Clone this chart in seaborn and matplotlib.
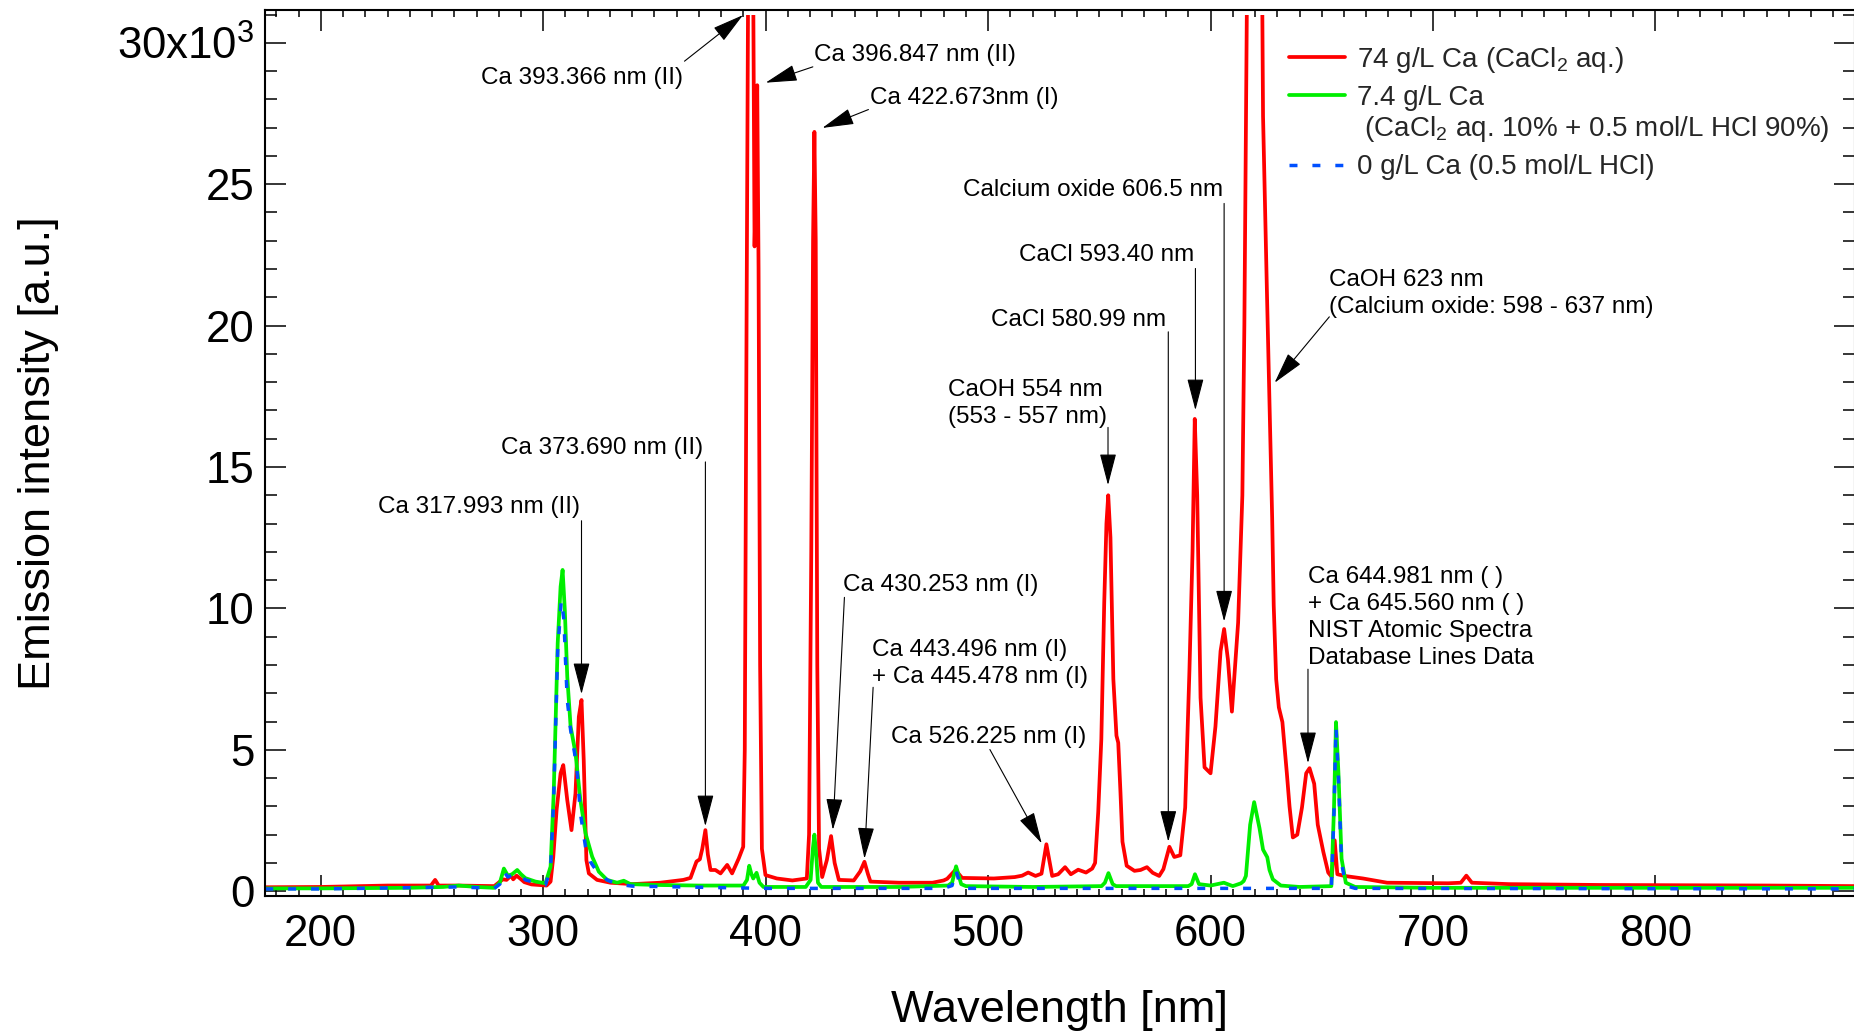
import matplotlib
matplotlib.use("Agg")
import numpy as np
import pandas as pd
import matplotlib.pyplot as plt
from matplotlib.lines import Line2D
from matplotlib.patches import Rectangle
from matplotlib.ticker import MultipleLocator
import seaborn as sns

# ---------------------------------------------------------------------------
# Emission spectra: wavelength [nm] and intensity [x10^3 a.u.]
# ---------------------------------------------------------------------------
wl_74 = [175, 200, 230, 249.5, 251.4, 253, 262, 278, 281.8, 283.5, 285.5, 286.5,
         288, 289.6, 291.5, 294.7, 298, 301.5, 303.3, 304.5, 306.0, 307.8, 309.0,
         310.8, 312.7, 314.5, 316.0, 317.2, 318.2, 319.4, 320.5, 324.2, 330.2, 340,
         352.6, 363, 366.2, 368.9, 370.4, 371.5, 372.9, 374.0, 375.2, 377.4, 379.7,
         382.7, 384.9, 387.9, 389.9, 390.6, 391.4, 392.1, 393.4, 394.4, 395.0, 395.6,
         396.2, 396.8, 397.5, 398.3, 399.9, 405, 412, 418.5, 419.5, 420.5, 421.3,
         421.9, 422.5, 423.2, 424.0, 425.4, 427.5, 429.4, 431.0, 432.9, 439.6, 442.5,
         444.4, 446.0, 447.1, 460, 475, 480, 481.6, 485.3, 488.3, 502.6, 512, 515.3,
         518, 521.3, 524, 526.2, 528.8, 531.5, 534.6, 537.2, 540.5, 544.0, 546.8,
         548.1, 549.5, 550.9, 552.2, 553.2, 554.0, 555.0, 556.3, 557.7, 558.5, 559.5,
         560.4, 562.3, 565.8, 568.5, 571.4, 574, 576.9, 578.8, 581.5, 583.7, 586.4,
         588.6, 590.5, 591.9, 592.9, 594.0, 595.5, 597.3, 600.0, 602.2, 604.5, 606.1,
         607.8, 609.6, 612.4, 614.3, 615.2, 616.4, 619.8, 623.2, 623.6, 625.4, 627.7,
         628.4, 629.5, 630.7, 632.3, 634.3, 635.5, 637.0, 639.0, 641.1, 643.0, 644.5,
         646.6, 648.2, 650.7, 652.9, 654.5, 655.8, 657.0, 660.2, 668.5, 679.4, 706.8,
         712.5, 715.0, 717.5, 734.1, 775.1, 851.7, 889.5]
int_74 = [0.14, 0.15, 0.2, 0.2, 0.4, 0.2, 0.2, 0.18, 0.42, 0.4, 0.55, 0.42,
          0.55, 0.45, 0.32, 0.24, 0.22, 0.2, 0.34, 1.2, 2.87, 4.17, 4.46,
          3.22, 2.16, 3.46, 6.17, 6.76, 4.64, 1.1, 0.63, 0.4, 0.3, 0.25,
          0.3, 0.4, 0.47, 1.05, 1.13, 1.5, 2.16, 1.3, 0.75, 0.75, 0.63,
          0.93, 0.63, 1.16, 1.57, 5.0, 20.0, 32.0, 36.0, 32.0, 22.8, 25.0,
          28.5, 22.0, 8.0, 1.5, 0.57, 0.45, 0.38, 0.45, 2.0, 12.0, 23.0,
          26.85, 23.0, 8.0, 1.5, 0.5, 1.1, 1.95, 1.0, 0.4, 0.38, 0.7,
          1.04, 0.6, 0.34, 0.3, 0.3, 0.38, 0.44, 0.75, 0.47, 0.45, 0.5, 0.55,
          0.66, 0.54, 0.62, 1.66, 0.54, 0.6, 0.85, 0.6, 0.76, 0.66, 0.8,
          1.0, 2.8, 5.38, 10.2, 13.0, 14.0, 12.5, 7.5, 5.5, 5.25, 3.5,
          1.75, 0.9, 0.72, 0.75, 0.85, 0.65, 0.54, 0.78, 1.57, 1.21, 1.27,
          2.96, 7.79, 12.0, 16.7, 14.0, 6.84, 4.38, 4.17, 5.82, 8.49, 9.27,
          8.2, 6.35, 9.5, 14.0, 20.0, 32.0, 38.0, 32.0, 27.4, 21.0, 13.2,
          10.1, 7.5, 6.5, 5.98, 4.17, 3.0, 1.9, 2.0, 2.96, 4.17, 4.35,
          3.8, 2.35, 1.39, 0.66, 0.5, 1.8, 0.6, 0.54, 0.45, 0.3, 0.28,
          0.3, 0.55, 0.3, 0.25, 0.22, 0.2, 0.18]

wl_7_4 = [175, 200, 240, 255, 262, 270, 278, 280.5, 282.3, 284.1, 286, 288.3, 290,
          292.0, 296.5, 301, 303.3, 304.7, 306.5, 307.8, 308.7, 309.7, 310.8,
          312.3, 314.5, 316.7, 319, 322, 325, 328.7, 333.2, 336.2, 339.2, 351,
          370, 390, 391.6, 392.6, 393.6, 394.4, 395.9, 397.2, 399, 418, 420.2,
          421.2, 421.9, 422.6, 423.5, 425, 440, 460, 482, 483.8, 485.6, 487.9,
          490, 520, 551, 552.5, 554.1, 556, 557.5, 590, 591.5, 593.0, 594.8, 600,
          606, 610, 613.7, 614.9, 615.9, 617.8, 619.6, 622.0, 623.6, 625.5, 626.5,
          628, 631.6, 640, 654.3, 655.5, 656.4, 657.5, 658.9, 660.8, 665, 700,
          889.5]
int_7_4 = [0.1, 0.1, 0.12, 0.15, 0.2, 0.15, 0.12, 0.3, 0.8, 0.55, 0.6, 0.75, 0.6,
           0.46, 0.34, 0.28, 0.87, 3.46, 8.77, 10.77, 11.36, 9.94, 7.58,
           5.82, 4.88, 3.22, 2.05, 1.22, 0.69, 0.4, 0.3, 0.37, 0.25, 0.22,
           0.2, 0.2, 0.4, 0.9, 0.6, 0.45, 0.65, 0.3, 0.15, 0.15, 0.4,
           1.5, 2.0, 1.4, 0.3, 0.15, 0.15, 0.15, 0.2, 0.3, 0.88, 0.25,
           0.18, 0.15, 0.18, 0.3, 0.64, 0.25, 0.18, 0.18, 0.25, 0.6, 0.25, 0.2,
           0.3, 0.18, 0.28, 0.36, 0.54, 2.35, 3.15, 2.23, 1.47, 1.2, 0.75,
           0.42, 0.2, 0.15, 0.18, 2.96, 5.98, 4.17, 1.15, 0.3, 0.15, 0.12,
           0.12]

wl_0 = [175, 200, 262, 278, 280.5, 282.3, 284.1, 288.3, 292, 296.5, 301, 303.3,
        304.7, 306.5, 308.1, 309.3, 310.0, 310.8, 312.3, 314.1, 315.3, 316.7,
        319, 321.2, 324.2, 328.7, 333, 340, 400, 480, 483.8, 485.5, 487.5, 490,
        654.3, 655.5, 656.4, 657.5, 658.9, 660.8, 665, 889.5]
int_0 = [0.08, 0.08, 0.15, 0.1, 0.25, 0.7, 0.5, 0.65, 0.4, 0.3, 0.22, 0.8,
         3.3, 8.5, 10.3, 9.6, 8.18, 6.76, 5.7, 4.88, 4.17, 2.76,
         1.57, 1.04, 0.69, 0.4, 0.25, 0.18, 0.1, 0.1, 0.2, 0.75, 0.2, 0.1,
         0.1, 2.8, 5.8, 4.0, 1.0, 0.2, 0.1, 0.08]

series_labels = ["74 g/L Ca (CaCl$_2$ aq.)",
                 "7.4 g/L Ca",
                 " (CaCl$_2$ aq. 10% + 0.5 mol/L HCl 90%)",
                 "0 g/L Ca (0.5 mol/L HCl)"]

x_ticks = [200, 300, 400, 500, 600, 700, 800]
y_ticks = [0, 5, 10, 15, 20, 25, 30]
y_tick_labels = ["0", "5", "10", "15", "20", "25", "30x10$^3$"]

# line identifications: label, label anchor, arrow tail, arrow tip (data coords)
annotations = [
    ("Ca 393.366 nm (II)", (362.7, 28.75), "right", (363.5, 29.35), (389.8, 30.98)),
    ("Ca 396.847 nm (II)", (421.9, 29.57), "left", (421.2, 29.15), (400.0, 28.59)),
    ("Ca 422.673nm (I)", (447.0, 28.04), "left", (446.2, 27.64), (425.5, 26.99)),
    ("Ca 373.690 nm (II)", (372.1, 15.66), "right", (372.9, 15.18), (372.9, 2.3)),
    ("Ca 317.993 nm (II)", (316.6, 13.57), "right", (317.2, 13.1), (317.2, 6.97)),
    ("Ca 430.253 nm (I)", (434.8, 10.82), "left", (435.4, 10.39), (430.2, 2.17)),
    ("Ca 443.496 nm (I)\n+ Ca 445.478 nm (I)", (447.8, 8.06), "left",
     (448.3, 7.21), (444.4, 1.15)),
    ("Ca 526.225 nm (I)", (544.0, 5.45), "right", (500.8, 5.01), (524.1, 1.69)),
    ("CaOH 554 nm\n(553 - 557 nm)", (481.9, 17.26), "left", (553.9, 16.4), (553.9, 14.36)),
    ("CaCl 580.99 nm", (580.2, 20.2), "right", (581.0, 19.78), (581.0, 1.75)),
    ("CaCl 593.40 nm", (592.7, 22.48), "right", (593.2, 22.02), (593.2, 17.01)),
    ("Calcium oxide 606.5 nm", (605.6, 24.78), "right", (606.1, 24.32), (606.1, 9.54)),
    ("CaOH 623 nm\n(Calcium oxide: 598 - 637 nm)", (653.4, 21.14), "left",
     (653.4, 20.31), (628.8, 17.98)),
    ("Ca 644.981 nm ( )\n+ Ca 645.560 nm ( )\nNIST Atomic Spectra\nDatabase Lines Data",
     (643.8, 9.68), "left", (643.8, 7.85), (643.8, 4.53)),
]

# ---------------------------------------------------------------------------
sns.set_theme(style="ticks")
plt.rcParams["font.family"] = ["Liberation Sans", "DejaVu Sans"]
plt.rcParams["mathtext.fontset"] = "custom"
plt.rcParams["mathtext.rm"] = "Liberation Sans"
plt.rcParams["mathtext.it"] = "Liberation Sans:italic"
plt.rcParams["mathtext.bf"] = "Liberation Sans:bold"

RED, GREEN, BLUE = "#ff0000", "#00ee00", "#0050ff"
LW = 2.7
BLUE_DASH = (0, (2.3, 4.3))
XMIN, XMAX = 175.0, 889.5
YMIN, YMAX = -0.152, 31.16
CLIP_TOP = 30.98

fig = plt.figure(figsize=(18.54, 10.33), dpi=100)
ax = fig.add_axes([265.2 / 1854, 1 - 895.5 / 1033, (1854.5 - 265.2) / 1854, (895.5 - 10) / 1033])

df74 = pd.DataFrame({"wl": wl_74, "I": int_74})
df7 = pd.DataFrame({"wl": wl_7_4, "I": int_7_4})
df0 = pd.DataFrame({"wl": wl_0, "I": int_0})

sns.lineplot(data=df74, x="wl", y="I", ax=ax, color=RED, lw=LW, sort=False,
             estimator=None)
red_line = ax.lines[-1]
sns.lineplot(data=df7, x="wl", y="I", ax=ax, color=GREEN, lw=LW, sort=False,
             estimator=None)
sns.lineplot(data=df0, x="wl", y="I", ax=ax, color=BLUE, lw=2.5, sort=False,
             estimator=None)
blue_line = ax.lines[-1]
blue_line.set_linestyle(BLUE_DASH)

# detector saturation: the strongest lines are cut slightly below the frame
clip_rect = Rectangle((XMIN, YMIN), XMAX - XMIN, CLIP_TOP - YMIN, transform=ax.transData)
red_line.set_clip_path(clip_rect)

ax.set_xlim(XMIN, XMAX)
ax.set_ylim(YMIN, YMAX)

ax.set_xticks(x_ticks)
ax.set_xticklabels([str(v) for v in x_ticks])
ax.xaxis.set_minor_locator(MultipleLocator(10))
ax.set_yticks(y_ticks)
ax.set_yticklabels(y_tick_labels)
ax.yaxis.set_minor_locator(MultipleLocator(1))

ax.tick_params(which="both", direction="in", top=True, right=True, width=1.1,
               color="black", labelsize=31.5, labelcolor="black")
ax.tick_params(which="major", length=14.8)
ax.tick_params(axis="x", which="minor", length=5.0)
ax.tick_params(axis="y", which="minor", length=8.6)
ax.tick_params(axis="x", which="major", pad=13.5)
ax.tick_params(axis="y", which="major", pad=7.5)
for sp in ax.spines.values():
    sp.set_linewidth(1.5)
    sp.set_color("black")

ax.set_xlabel("Wavelength [nm]", fontsize=32.5, color="black")
ax.set_ylabel("Emission intensity [a.u.]", fontsize=32.5, color="black")
ax.xaxis.set_label_coords(0.5, -0.1067)
ax.yaxis.set_label_coords(-0.1295, 0.5)

for text, pos, ha, tail, tip in annotations:
    ax.text(pos[0], pos[1], text, ha=ha, va="center", fontsize=17.5,
            color="black", linespacing=1.3)
    ax.annotate("", xy=tip, xytext=tail,
                arrowprops=dict(arrowstyle="-|>,head_length=1.0,head_width=0.26",
                                mutation_scale=20, color="black", lw=0.8,
                                shrinkA=0, shrinkB=0))

# legend: the mixed-solution entry runs onto a second, handle-less line
leg_handles = [
    Line2D([], [], color=RED, lw=LW),
    Line2D([], [], color=GREEN, lw=LW),
    Line2D([], [], color="none"),
    Line2D([], [], color=BLUE, lw=2.5, linestyle=BLUE_DASH),
]
leg_kw = dict(loc="upper left", frameon=False, fontsize=20, handlelength=2.0,
              handletextpad=0.45, labelspacing=0.36, borderpad=0, borderaxespad=0)
leg_top = ax.legend(leg_handles[:2], series_labels[:2], bbox_to_anchor=(0.6444, 0.961),
                    **leg_kw)
ax.add_artist(leg_top)
ax.legend(leg_handles[2:], series_labels[2:], bbox_to_anchor=(0.6444, 0.882), **leg_kw)

fig.savefig("out.png", dpi=100)
